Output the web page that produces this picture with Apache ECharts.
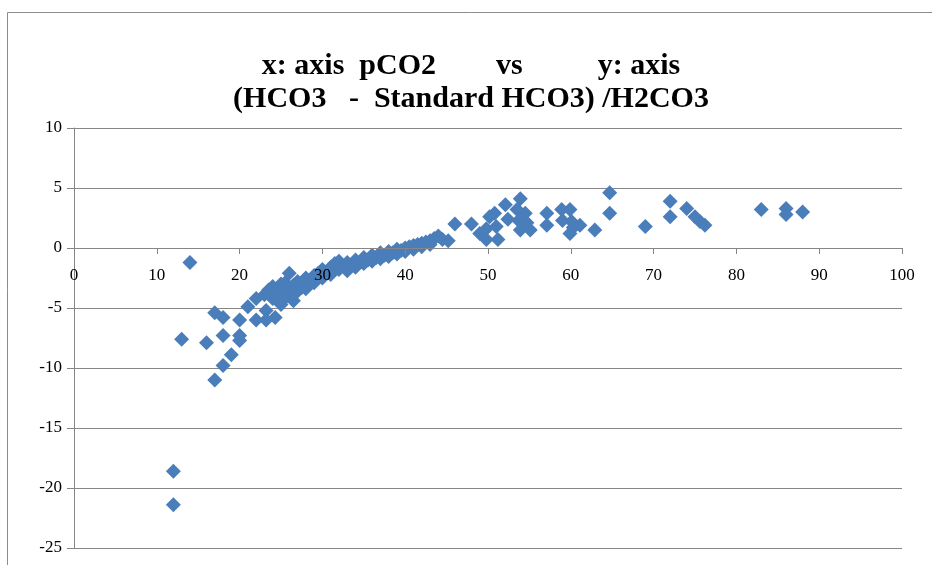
<!DOCTYPE html>
<html>
<head>
<meta charset="utf-8">
<script src="https://cdn.jsdelivr.net/npm/echarts@6/dist/echarts.min.js"></script>
<style>html,body{margin:0;padding:0;background:#fff}#c{width:932px;height:565px}</style>
</head>
<body>
<div id="c"></div>
<script>
// pCO2 (x) values
var pCO2 = [
  12, 12, 14, 13, 16, 17, 17, 18, 18, 18, 19, 20, 20, 20, 21, 22, 22, 23.2, 23.2, 24.3,
  23, 23.5, 24, 24, 24.5, 25, 25, 25, 25.5, 25.5, 26, 26, 26, 26.5, 27, 27, 27.5, 28, 28, 28.5,
  29, 29, 29.5, 30, 30, 30.5, 31, 31, 31.5, 32, 32, 32.5, 33, 33, 33.5, 34, 34, 34.5, 35, 35,
  35.5, 36, 36, 36.5, 37, 37, 37.5, 38, 38, 38.5, 39, 39, 39.5, 40, 40, 40.5, 41, 41, 41.5, 42,
  42, 42.5, 43, 43, 43.5, 44, 44.5, 45.2,
  24, 25, 25, 26, 26.5, 27, 28, 29, 30, 31, 32, 33, 34, 36, 38, 40, 42,
  46, 48, 49, 49.8, 49.8, 50.2, 50.8, 51, 51.2, 52.1, 52.4, 53.5, 53.9, 53.7, 53.9, 54.5, 54.7, 55.1,
  57.1, 57.1, 58.9, 59, 59.9, 60.1, 60.3, 59.9, 61.1, 62.9, 64.7, 64.7,
  69, 72, 72, 74, 75, 75.6, 76.2, 83, 86, 86, 88
];
// (HCO3 - Standard HCO3) / H2CO3 (y) values
var ratio = [
  -18.6, -21.4, -1.2, -7.6, -7.9, -11.0, -5.4, -5.8, -7.3, -9.8, -8.9, -6.0, -7.3, -7.7, -4.9, -4.2, -6.0, -5.2, -6.0, -5.8,
  -3.9, -3.5, -4.2, -3.2, -3.8, -4.5, -3.0, -3.6, -4.1, -2.9, -2.1, -3.4, -4.0, -3.1, -3.6, -2.8, -3.3, -2.5, -3.0, -2.7,
  -2.3, -2.9, -2.1, -1.8, -2.5, -2.0, -1.6, -2.2, -1.3, -1.8, -1.1, -1.5, -1.9, -1.2, -1.4, -1.0, -1.6, -1.2, -0.8, -1.3,
  -1.0, -0.6, -1.1, -0.8, -0.4, -0.9, -0.6, -0.3, -0.7, -0.4, -0.1, -0.5, -0.2, 0.0, -0.3, 0.1, 0.2, -0.1, 0.3, 0.4,
  0.1, 0.5, 0.6, 0.3, 0.8, 1.0, 0.7, 0.6,
  -3.6, -4.0, -4.7, -3.7, -4.4, -3.2, -3.4, -2.6, -2.2, -1.9, -1.4, -1.6, -1.3, -0.9, -0.5, -0.1, 0.3,
  2.0, 2.0, 1.2, 0.7, 1.6, 2.6, 2.9, 1.8, 0.7, 3.6, 2.4, 3.2, 4.1, 2.3, 1.5, 2.9, 2.1, 1.5,
  2.9, 1.9, 3.2, 2.3, 3.2, 2.2, 1.7, 1.2, 1.9, 1.5, 4.6, 2.9,
  1.8, 3.9, 2.6, 3.3, 2.6, 2.2, 1.9, 3.2, 3.3, 2.8, 3.0
];
var titleLine1 = 'x: axis  pCO2        vs          y: axis';
var titleLine2 = '(HCO3   -  Standard HCO3) /H2CO3';

var points = pCO2.map(function (x, i) { return [x, ratio[i]]; });

var chart = echarts.init(document.getElementById('c'), null, {renderer: 'canvas'});
var serif = '"Liberation Serif", "Times New Roman", serif';
chart.setOption({
  animation: false,
  backgroundColor: '#ffffff',
  graphic: [{
    type: 'rect', silent: true, z: -1,
    shape: {x: 7.5, y: 12.5, width: 960, height: 600},
    style: {fill: 'none', stroke: '#8c8c8c', lineWidth: 1}
  }],
  title: {
    text: titleLine1 + '\n' + titleLine2,
    left: 466, top: 45, textAlign: 'center',
    textStyle: {fontFamily: serif, fontWeight: 'bold', fontSize: 30, color: '#000', lineHeight: 33}
  },
  grid: {left: 74, right: 30, top: 128, bottom: 17},
  xAxis: {
    type: 'value', min: 0, max: 100, interval: 10,
    offset: -300,
    z: 5,
    axisLine: {onZero: false, lineStyle: {color: '#868686', width: 1}},
    axisTick: {show: true, inside: false, length: 6, lineStyle: {color: '#868686'}},
    axisLabel: {fontFamily: serif, fontSize: 17, color: '#000', margin: 19},
    splitLine: {show: false}
  },
  yAxis: {
    type: 'value', min: -25, max: 10, interval: 5,
    axisLine: {show: true, onZero: false, lineStyle: {color: '#868686', width: 1}},
    axisTick: {show: true, length: 7, lineStyle: {color: '#868686'}},
    axisLabel: {fontFamily: serif, fontSize: 17, color: '#000', margin: 12},
    splitLine: {show: true, lineStyle: {color: '#868686', width: 1}}
  },
  series: [{
    type: 'scatter',
    symbol: 'diamond',
    symbolSize: 15,
    itemStyle: {color: '#4a7ebb', opacity: 1},
    data: points
  }]
});
</script>
</body>
</html>
